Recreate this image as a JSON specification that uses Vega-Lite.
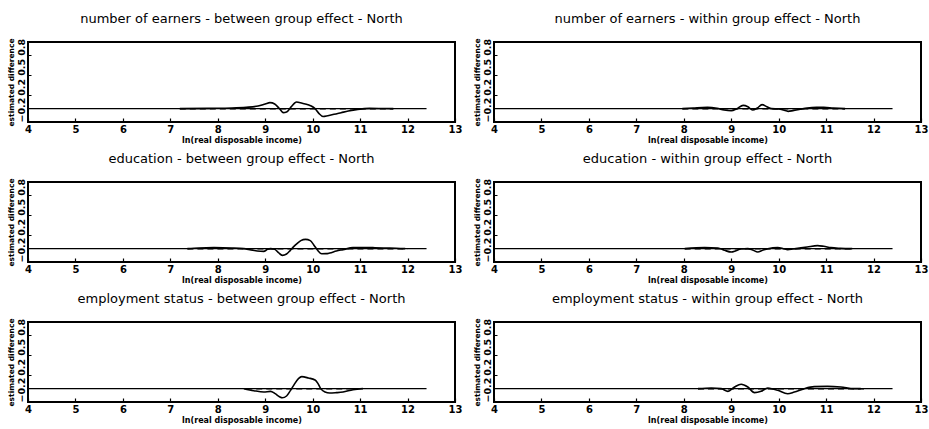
{
  "$schema": "https://vega.github.io/schema/vega-lite/v6.json",
  "background": "white",
  "padding": {"left": 5, "top": 12, "right": 1, "bottom": 1},
  "config": {
    "view": {"stroke": "black", "strokeWidth": 2},
    "font": "DejaVu Sans",
    "axis": {"domain": false, "grid": false, "tickColor": "black", "labelColor": "black", "titleColor": "black", "labelFont": "DejaVu Sans", "titleFont": "DejaVu Sans"}
  },
  "datasets": {
    "d": [
      {"panel": "number of earners - between group effect - North", "series": "zero", "x": 4, "y": 0},
      {"panel": "number of earners - between group effect - North", "series": "zero", "x": 12.4, "y": 0},
      {"panel": "number of earners - between group effect - North", "series": "ref", "x": 7.2, "y": 0},
      {"panel": "number of earners - between group effect - North", "series": "ref", "x": 11.7, "y": 0},
      {"panel": "number of earners - between group effect - North", "series": "est", "x": 7.2, "y": 0},
      {"panel": "number of earners - between group effect - North", "series": "est", "x": 7.8, "y": 0.005},
      {"panel": "number of earners - between group effect - North", "series": "est", "x": 8.3, "y": 0.01},
      {"panel": "number of earners - between group effect - North", "series": "est", "x": 8.6, "y": 0.02},
      {"panel": "number of earners - between group effect - North", "series": "est", "x": 8.85, "y": 0.04},
      {"panel": "number of earners - between group effect - North", "series": "est", "x": 9.0, "y": 0.07},
      {"panel": "number of earners - between group effect - North", "series": "est", "x": 9.1, "y": 0.09},
      {"panel": "number of earners - between group effect - North", "series": "est", "x": 9.2, "y": 0.07},
      {"panel": "number of earners - between group effect - North", "series": "est", "x": 9.3, "y": 0.0},
      {"panel": "number of earners - between group effect - North", "series": "est", "x": 9.38, "y": -0.06},
      {"panel": "number of earners - between group effect - North", "series": "est", "x": 9.45, "y": -0.05},
      {"panel": "number of earners - between group effect - North", "series": "est", "x": 9.55, "y": 0.03},
      {"panel": "number of earners - between group effect - North", "series": "est", "x": 9.66, "y": 0.1},
      {"panel": "number of earners - between group effect - North", "series": "est", "x": 9.78, "y": 0.08},
      {"panel": "number of earners - between group effect - North", "series": "est", "x": 9.9, "y": 0.06},
      {"panel": "number of earners - between group effect - North", "series": "est", "x": 9.97, "y": 0.04},
      {"panel": "number of earners - between group effect - North", "series": "est", "x": 10.05, "y": 0.0},
      {"panel": "number of earners - between group effect - North", "series": "est", "x": 10.13, "y": -0.07},
      {"panel": "number of earners - between group effect - North", "series": "est", "x": 10.22, "y": -0.117},
      {"panel": "number of earners - between group effect - North", "series": "est", "x": 10.32, "y": -0.105},
      {"panel": "number of earners - between group effect - North", "series": "est", "x": 10.45, "y": -0.085},
      {"panel": "number of earners - between group effect - North", "series": "est", "x": 10.6, "y": -0.06},
      {"panel": "number of earners - between group effect - North", "series": "est", "x": 10.75, "y": -0.035},
      {"panel": "number of earners - between group effect - North", "series": "est", "x": 10.95, "y": -0.01},
      {"panel": "number of earners - between group effect - North", "series": "est", "x": 11.2, "y": 0.005},
      {"panel": "number of earners - between group effect - North", "series": "est", "x": 11.45, "y": 0.003},
      {"panel": "number of earners - between group effect - North", "series": "est", "x": 11.7, "y": 0},

      {"panel": "number of earners - within group effect - North", "series": "zero", "x": 4, "y": 0},
      {"panel": "number of earners - within group effect - North", "series": "zero", "x": 12.4, "y": 0},
      {"panel": "number of earners - within group effect - North", "series": "ref", "x": 7.97, "y": 0},
      {"panel": "number of earners - within group effect - North", "series": "ref", "x": 11.4, "y": 0},
      {"panel": "number of earners - within group effect - North", "series": "est", "x": 7.97, "y": 0},
      {"panel": "number of earners - within group effect - North", "series": "est", "x": 8.2, "y": 0.01},
      {"panel": "number of earners - within group effect - North", "series": "est", "x": 8.5, "y": 0.02},
      {"panel": "number of earners - within group effect - North", "series": "est", "x": 8.7, "y": 0.005},
      {"panel": "number of earners - within group effect - North", "series": "est", "x": 8.85, "y": -0.02},
      {"panel": "number of earners - within group effect - North", "series": "est", "x": 9.0, "y": -0.03},
      {"panel": "number of earners - within group effect - North", "series": "est", "x": 9.12, "y": 0.0},
      {"panel": "number of earners - within group effect - North", "series": "est", "x": 9.25, "y": 0.05},
      {"panel": "number of earners - within group effect - North", "series": "est", "x": 9.35, "y": 0.03},
      {"panel": "number of earners - within group effect - North", "series": "est", "x": 9.45, "y": -0.02},
      {"panel": "number of earners - within group effect - North", "series": "est", "x": 9.55, "y": 0.01},
      {"panel": "number of earners - within group effect - North", "series": "est", "x": 9.65, "y": 0.06},
      {"panel": "number of earners - within group effect - North", "series": "est", "x": 9.75, "y": 0.03},
      {"panel": "number of earners - within group effect - North", "series": "est", "x": 9.85, "y": 0.0},
      {"panel": "number of earners - within group effect - North", "series": "est", "x": 10.0, "y": -0.005},
      {"panel": "number of earners - within group effect - North", "series": "est", "x": 10.1, "y": -0.02},
      {"panel": "number of earners - within group effect - North", "series": "est", "x": 10.2, "y": -0.04},
      {"panel": "number of earners - within group effect - North", "series": "est", "x": 10.3, "y": -0.03},
      {"panel": "number of earners - within group effect - North", "series": "est", "x": 10.45, "y": -0.01},
      {"panel": "number of earners - within group effect - North", "series": "est", "x": 10.6, "y": 0.01},
      {"panel": "number of earners - within group effect - North", "series": "est", "x": 10.8, "y": 0.02},
      {"panel": "number of earners - within group effect - North", "series": "est", "x": 10.95, "y": 0.02},
      {"panel": "number of earners - within group effect - North", "series": "est", "x": 11.15, "y": 0.01},
      {"panel": "number of earners - within group effect - North", "series": "est", "x": 11.4, "y": 0},

      {"panel": "education - between group effect - North", "series": "zero", "x": 4, "y": 0},
      {"panel": "education - between group effect - North", "series": "zero", "x": 12.4, "y": 0},
      {"panel": "education - between group effect - North", "series": "ref", "x": 7.36, "y": 0},
      {"panel": "education - between group effect - North", "series": "ref", "x": 12.0, "y": 0},
      {"panel": "education - between group effect - North", "series": "est", "x": 7.36, "y": 0},
      {"panel": "education - between group effect - North", "series": "est", "x": 7.6, "y": 0.01},
      {"panel": "education - between group effect - North", "series": "est", "x": 7.92, "y": 0.015},
      {"panel": "education - between group effect - North", "series": "est", "x": 8.3, "y": 0.01},
      {"panel": "education - between group effect - North", "series": "est", "x": 8.55, "y": 0.0},
      {"panel": "education - between group effect - North", "series": "est", "x": 8.7, "y": -0.02},
      {"panel": "education - between group effect - North", "series": "est", "x": 8.83, "y": -0.035},
      {"panel": "education - between group effect - North", "series": "est", "x": 8.97, "y": -0.04},
      {"panel": "education - between group effect - North", "series": "est", "x": 9.05, "y": -0.01},
      {"panel": "education - between group effect - North", "series": "est", "x": 9.11, "y": 0.0},
      {"panel": "education - between group effect - North", "series": "est", "x": 9.2, "y": -0.01},
      {"panel": "education - between group effect - North", "series": "est", "x": 9.28, "y": -0.06},
      {"panel": "education - between group effect - North", "series": "est", "x": 9.36, "y": -0.1},
      {"panel": "education - between group effect - North", "series": "est", "x": 9.45, "y": -0.08},
      {"panel": "education - between group effect - North", "series": "est", "x": 9.53, "y": -0.025},
      {"panel": "education - between group effect - North", "series": "est", "x": 9.6, "y": 0.03},
      {"panel": "education - between group effect - North", "series": "est", "x": 9.67, "y": 0.076},
      {"panel": "education - between group effect - North", "series": "est", "x": 9.75, "y": 0.12},
      {"panel": "education - between group effect - North", "series": "est", "x": 9.85, "y": 0.14},
      {"panel": "education - between group effect - North", "series": "est", "x": 9.95, "y": 0.12},
      {"panel": "education - between group effect - North", "series": "est", "x": 10.02, "y": 0.06},
      {"panel": "education - between group effect - North", "series": "est", "x": 10.1, "y": -0.02},
      {"panel": "education - between group effect - North", "series": "est", "x": 10.19, "y": -0.076},
      {"panel": "education - between group effect - North", "series": "est", "x": 10.28, "y": -0.075},
      {"panel": "education - between group effect - North", "series": "est", "x": 10.36, "y": -0.065},
      {"panel": "education - between group effect - North", "series": "est", "x": 10.5, "y": -0.035},
      {"panel": "education - between group effect - North", "series": "est", "x": 10.64, "y": -0.015},
      {"panel": "education - between group effect - North", "series": "est", "x": 10.85, "y": 0.015},
      {"panel": "education - between group effect - North", "series": "est", "x": 11.05, "y": 0.017},
      {"panel": "education - between group effect - North", "series": "est", "x": 11.27, "y": 0.015},
      {"panel": "education - between group effect - North", "series": "est", "x": 11.62, "y": 0.01},
      {"panel": "education - between group effect - North", "series": "est", "x": 11.95, "y": 0},

      {"panel": "education - within group effect - North", "series": "zero", "x": 4, "y": 0},
      {"panel": "education - within group effect - North", "series": "zero", "x": 12.4, "y": 0},
      {"panel": "education - within group effect - North", "series": "ref", "x": 8.02, "y": 0},
      {"panel": "education - within group effect - North", "series": "ref", "x": 11.6, "y": 0},
      {"panel": "education - within group effect - North", "series": "est", "x": 8.02, "y": 0},
      {"panel": "education - within group effect - North", "series": "est", "x": 8.44, "y": 0.015},
      {"panel": "education - within group effect - North", "series": "est", "x": 8.72, "y": 0.01},
      {"panel": "education - within group effect - North", "series": "est", "x": 8.86, "y": -0.025},
      {"panel": "education - within group effect - North", "series": "est", "x": 9.0, "y": -0.05},
      {"panel": "education - within group effect - North", "series": "est", "x": 9.1, "y": -0.03},
      {"panel": "education - within group effect - North", "series": "est", "x": 9.2, "y": -0.005},
      {"panel": "education - within group effect - North", "series": "est", "x": 9.35, "y": 0.0},
      {"panel": "education - within group effect - North", "series": "est", "x": 9.45, "y": -0.02},
      {"panel": "education - within group effect - North", "series": "est", "x": 9.56, "y": -0.05},
      {"panel": "education - within group effect - North", "series": "est", "x": 9.66, "y": -0.025},
      {"panel": "education - within group effect - North", "series": "est", "x": 9.77, "y": 0.0},
      {"panel": "education - within group effect - North", "series": "est", "x": 9.98, "y": 0.015},
      {"panel": "education - within group effect - North", "series": "est", "x": 10.1, "y": 0.0},
      {"panel": "education - within group effect - North", "series": "est", "x": 10.19, "y": -0.015},
      {"panel": "education - within group effect - North", "series": "est", "x": 10.3, "y": -0.005},
      {"panel": "education - within group effect - North", "series": "est", "x": 10.4, "y": 0.005},
      {"panel": "education - within group effect - North", "series": "est", "x": 10.6, "y": 0.025},
      {"panel": "education - within group effect - North", "series": "est", "x": 10.82, "y": 0.046},
      {"panel": "education - within group effect - North", "series": "est", "x": 10.95, "y": 0.035},
      {"panel": "education - within group effect - North", "series": "est", "x": 11.1, "y": 0.015},
      {"panel": "education - within group effect - North", "series": "est", "x": 11.3, "y": 0.005},
      {"panel": "education - within group effect - North", "series": "est", "x": 11.55, "y": 0},

      {"panel": "employment status - between group effect - North", "series": "zero", "x": 4, "y": 0},
      {"panel": "employment status - between group effect - North", "series": "zero", "x": 12.4, "y": 0},
      {"panel": "employment status - between group effect - North", "series": "ref", "x": 8.6, "y": 0},
      {"panel": "employment status - between group effect - North", "series": "ref", "x": 10.9, "y": 0},
      {"panel": "employment status - between group effect - North", "series": "est", "x": 8.55, "y": 0},
      {"panel": "employment status - between group effect - North", "series": "est", "x": 8.76, "y": -0.03},
      {"panel": "employment status - between group effect - North", "series": "est", "x": 8.97, "y": -0.05},
      {"panel": "employment status - between group effect - North", "series": "est", "x": 9.11, "y": -0.04},
      {"panel": "employment status - between group effect - North", "series": "est", "x": 9.21, "y": -0.075},
      {"panel": "employment status - between group effect - North", "series": "est", "x": 9.3, "y": -0.12},
      {"panel": "employment status - between group effect - North", "series": "est", "x": 9.36, "y": -0.137},
      {"panel": "employment status - between group effect - North", "series": "est", "x": 9.45, "y": -0.11},
      {"panel": "employment status - between group effect - North", "series": "est", "x": 9.53, "y": -0.03},
      {"panel": "employment status - between group effect - North", "series": "est", "x": 9.6, "y": 0.05},
      {"panel": "employment status - between group effect - North", "series": "est", "x": 9.7, "y": 0.15},
      {"panel": "employment status - between group effect - North", "series": "est", "x": 9.77, "y": 0.18},
      {"panel": "employment status - between group effect - North", "series": "est", "x": 9.91, "y": 0.16},
      {"panel": "employment status - between group effect - North", "series": "est", "x": 10.05, "y": 0.13},
      {"panel": "employment status - between group effect - North", "series": "est", "x": 10.11, "y": 0.08},
      {"panel": "employment status - between group effect - North", "series": "est", "x": 10.17, "y": 0.0},
      {"panel": "employment status - between group effect - North", "series": "est", "x": 10.26, "y": -0.05},
      {"panel": "employment status - between group effect - North", "series": "est", "x": 10.36, "y": -0.066},
      {"panel": "employment status - between group effect - North", "series": "est", "x": 10.5, "y": -0.06},
      {"panel": "employment status - between group effect - North", "series": "est", "x": 10.64, "y": -0.05},
      {"panel": "employment status - between group effect - North", "series": "est", "x": 10.85, "y": -0.015},
      {"panel": "employment status - between group effect - North", "series": "est", "x": 11.06, "y": 0},

      {"panel": "employment status - within group effect - North", "series": "zero", "x": 4, "y": 0},
      {"panel": "employment status - within group effect - North", "series": "zero", "x": 12.4, "y": 0},
      {"panel": "employment status - within group effect - North", "series": "ref", "x": 8.3, "y": 0},
      {"panel": "employment status - within group effect - North", "series": "ref", "x": 11.8, "y": 0},
      {"panel": "employment status - within group effect - North", "series": "est", "x": 8.3, "y": 0},
      {"panel": "employment status - within group effect - North", "series": "est", "x": 8.58, "y": 0.01},
      {"panel": "employment status - within group effect - North", "series": "est", "x": 8.79, "y": 0.0},
      {"panel": "employment status - within group effect - North", "series": "est", "x": 8.93, "y": -0.04},
      {"panel": "employment status - within group effect - North", "series": "est", "x": 9.07, "y": 0.025},
      {"panel": "employment status - within group effect - North", "series": "est", "x": 9.21, "y": 0.066},
      {"panel": "employment status - within group effect - North", "series": "est", "x": 9.35, "y": 0.025},
      {"panel": "employment status - within group effect - North", "series": "est", "x": 9.49, "y": -0.06},
      {"panel": "employment status - within group effect - North", "series": "est", "x": 9.63, "y": -0.04},
      {"panel": "employment status - within group effect - North", "series": "est", "x": 9.77, "y": 0.01},
      {"panel": "employment status - within group effect - North", "series": "est", "x": 9.88, "y": -0.005},
      {"panel": "employment status - within group effect - North", "series": "est", "x": 9.98, "y": -0.025},
      {"panel": "employment status - within group effect - North", "series": "est", "x": 10.19, "y": -0.076},
      {"panel": "employment status - within group effect - North", "series": "est", "x": 10.33, "y": -0.05},
      {"panel": "employment status - within group effect - North", "series": "est", "x": 10.54, "y": 0.0},
      {"panel": "employment status - within group effect - North", "series": "est", "x": 10.75, "y": 0.03},
      {"panel": "employment status - within group effect - North", "series": "est", "x": 11.03, "y": 0.035},
      {"panel": "employment status - within group effect - North", "series": "est", "x": 11.31, "y": 0.025},
      {"panel": "employment status - within group effect - North", "series": "est", "x": 11.59, "y": 0.0},
      {"panel": "employment status - within group effect - North", "series": "est", "x": 11.73, "y": 0}
    ]
  },
  "data": {"name": "d"},
  "facet": {
    "field": "panel",
    "type": "nominal",
    "sort": [
      "number of earners - between group effect - North",
      "number of earners - within group effect - North",
      "education - between group effect - North",
      "education - within group effect - North",
      "employment status - between group effect - North",
      "employment status - within group effect - North"
    ],
    "header": {"title": null, "labelFont": "DejaVu Sans", "labelFontSize": 13, "labelColor": "black", "labelPadding": 12}
  },
  "columns": 2,
  "spacing": {"row": 7, "column": 8},
  "resolve": {"axis": {"x": "independent", "y": "independent"}},
  "spec": {
    "width": 427,
    "height": 80,
    "encoding": {
      "x": {
        "field": "x", "type": "quantitative",
        "scale": {"domain": [4, 13], "nice": false, "zero": false},
        "axis": {"values": [4, 5, 6, 7, 8, 9, 10, 11, 12, 13], "title": "ln(real disposable income)", "titleFontSize": 8, "titleFontWeight": "bold", "titlePadding": 2, "labelFontSize": 10, "labelFontWeight": "bold", "labelFlush": false, "labelPadding": 6, "tickSize": -4, "tickWidth": 1.2}
      },
      "y": {
        "field": "y", "type": "quantitative",
        "scale": {"domain": [-0.2, 1.0], "nice": false, "zero": false},
        "axis": {"values": [-0.2, 0.2, 0.5, 0.8], "format": ".1f", "labelAngle": -90, "labelAlign": "left", "labelBaseline": "bottom", "labelOverlap": false, "labelFlush": false, "labelFontSize": 9.5, "labelFontWeight": "bold", "labelPadding": 5, "tickSize": -3, "title": "estimated difference", "titleFontSize": 7.5, "titleFontWeight": "bold", "titlePadding": 1}
      }
    },
    "layer": [
      {"transform": [{"filter": "datum.series === 'zero'"}], "mark": {"type": "line", "color": "black", "strokeWidth": 1.2}},
      {"transform": [{"filter": "datum.series === 'ref'"}], "mark": {"type": "line", "color": "black", "strokeWidth": 1.5, "strokeDash": [6, 4]}},
      {"transform": [{"filter": "datum.series === 'est'"}], "mark": {"type": "line", "color": "black", "strokeWidth": 1.6, "interpolate": "monotone"}}
    ]
  }
}
